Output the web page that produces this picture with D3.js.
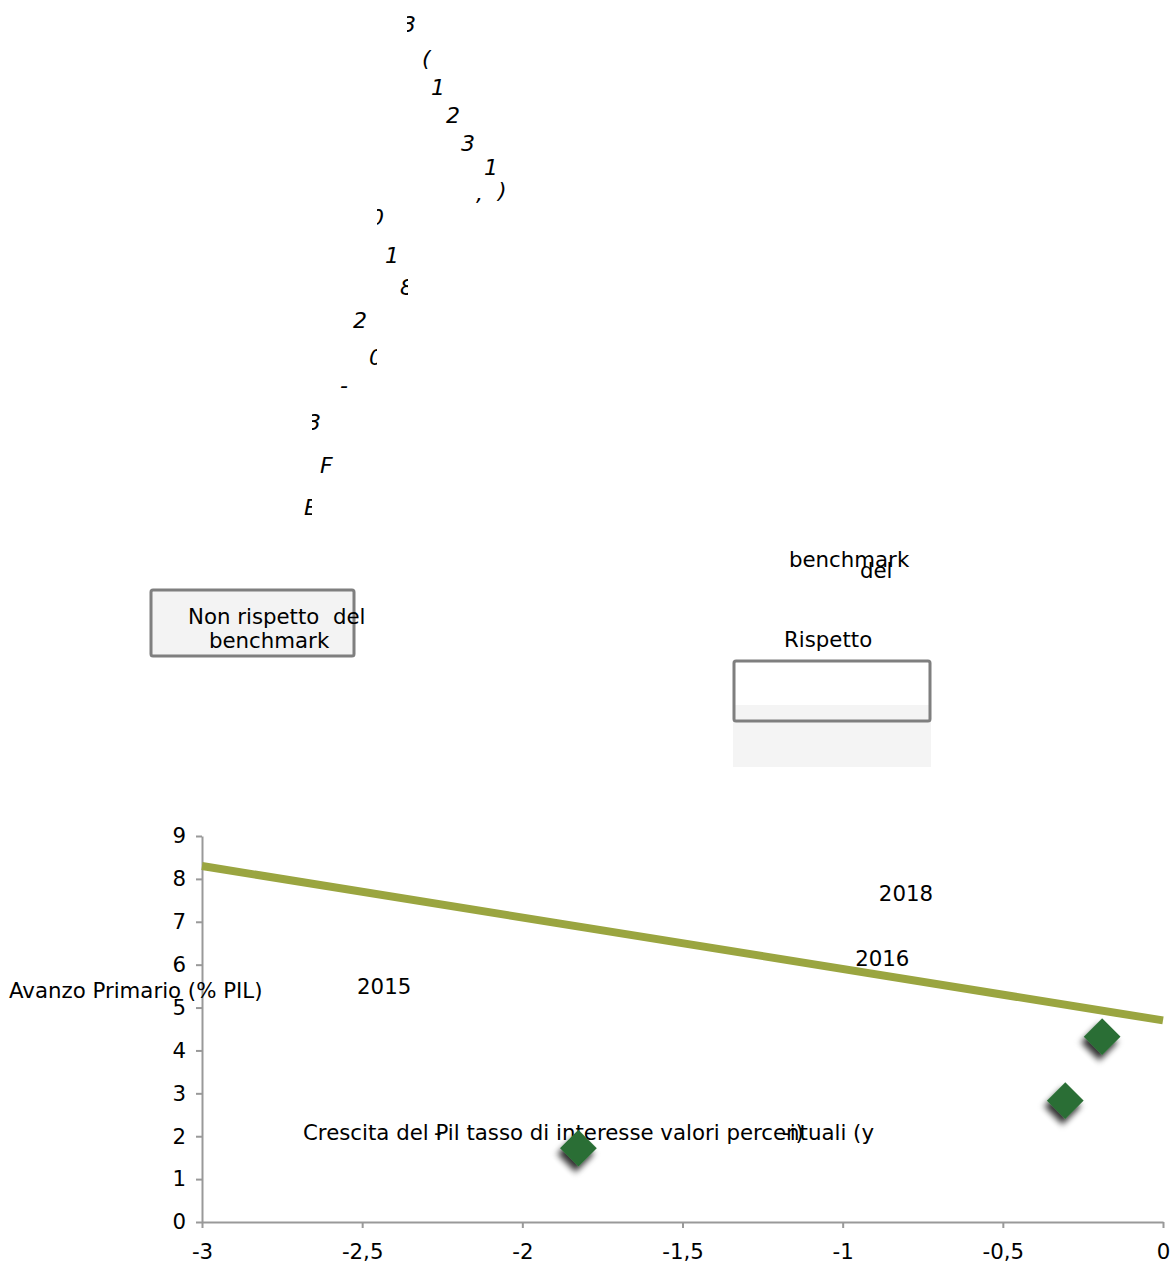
<!DOCTYPE html>
<html>
<head>
<meta charset="utf-8">
<script src="https://cdn.jsdelivr.net/npm/d3@7"></script>
<style>
  html, body { margin: 0; padding: 0; background: #fff; }
  svg { display: block; font-family: "DejaVu Sans", sans-serif; }
  text { white-space: pre; }
</style>
</head>
<body>
<svg id="chart" width="1174" height="1263"></svg>
<script>
// Benchmark line: required primary surplus at each end of the x range
const benchmarkX = [-3, 0];
const benchmarkY = [8.30, 4.70];

// Observed points: growth minus interest rate (x) vs primary surplus (y)
const pointX = [-1.825, -0.305, -0.19];
const pointY = [1.72, 2.83, 4.32];

// Year labels and the value positions they sit at
const yearLabels = ["2015", "2016", "2018"];
const yearX = [-2.516, -0.961, -0.887];
const yearY = [5.32, 5.97, 7.48];

// Axis ticks
const xTicks = [-3, -2.5, -2, -1.5, -1, -0.5, 0];
const yTicks = [0, 1, 2, 3, 4, 5, 6, 7, 8, 9];

const FS = 21.3;

const svg = d3.select("#chart");

const x = d3.scaleLinear().domain([-3, 0]).range([202, 1163]);
const y = d3.scaleLinear().domain([0, 9]).range([1222, 836]);

// drop shadow for the diamonds
const defs = svg.append("defs");
const f = defs.append("filter").attr("id", "shadow")
  .attr("x", "-50%").attr("y", "-50%").attr("width", "200%").attr("height", "200%");
f.append("feDropShadow").attr("dx", 2).attr("dy", 6).attr("stdDeviation", 3)
  .attr("flood-color", "#000").attr("flood-opacity", 0.8);

// ---- fragments of the rotated title, each glyph clipped by its frame ----
const titleGlyphs = [
  { t: "3", x: 402, y: 32, cx: 407, cw: 20 },
  { t: "(", x: 422, y: 66 },
  { t: "1", x: 431, y: 95 },
  { t: "2", x: 446, y: 123 },
  { t: "3", x: 461, y: 151 },
  { t: "1", x: 484, y: 175 },
  { t: ")", x: 498, y: 198 },
  { t: ",", x: 476, y: 201 },
  { t: "0", x: 370, y: 225, cx: 377, cw: 20 },
  { t: "1", x: 385, y: 263 },
  { t: "8", x: 400, y: 295, cx: 400, cw: 8 },
  { t: "2", x: 353, y: 328 },
  { t: "0", x: 369, y: 365, cx: 369, cw: 8 },
  { t: "-", x: 340, y: 393, cx: 340, cw: 20 },
  { t: "3", x: 307, y: 430, cx: 312, cw: 20 },
  { t: "F", x: 320, y: 473 },
  { t: "E", x: 304, y: 515, cx: 294, cw: 18 }
];
const tg = svg.append("g").attr("class", "title-fragments");
titleGlyphs.forEach((g, i) => {
  const node = tg.append("text")
    .attr("x", g.x).attr("y", g.y)
    .attr("font-size", 22).attr("font-style", "italic")
    .attr("fill", "#000").text(g.t);
  if (g.cx !== undefined) {
    defs.append("clipPath").attr("id", "gc" + i)
      .append("rect").attr("x", g.cx).attr("y", g.y - 25).attr("width", g.cw).attr("height", 35);
    node.attr("clip-path", "url(#gc" + i + ")");
  }
});

// ---- legend-like boxes ----
svg.append("rect").attr("x", 151).attr("y", 590).attr("width", 203).attr("height", 66)
  .attr("rx", 2).attr("fill", "#f3f3f3").attr("stroke", "#7f7f7f").attr("stroke-width", 3);
svg.append("text").attr("x", 188).attr("y", 624).attr("font-size", FS).text("Non rispetto  del");
svg.append("text").attr("x", 209).attr("y", 648).attr("font-size", FS).text("benchmark");

svg.append("rect").attr("x", 733).attr("y", 705).attr("width", 198).attr("height", 62)
  .attr("fill", "#f4f4f4");
svg.append("rect").attr("x", 734).attr("y", 661).attr("width", 196).attr("height", 60)
  .attr("rx", 2).attr("fill", "none").attr("stroke", "#7f7f7f").attr("stroke-width", 3);
svg.append("text").attr("x", 784).attr("y", 647).attr("font-size", FS).text("Rispetto");
svg.append("text").attr("x", 789).attr("y", 567).attr("font-size", FS).text("benchmark");
svg.append("text").attr("x", 860).attr("y", 578).attr("font-size", FS).text("del");

// ---- axes ----
const yAxis = svg.append("g").attr("transform", `translate(${x(-3)},0)`)
  .call(d3.axisLeft(y).tickValues(yTicks).tickFormat(d3.format("d"))
    .tickSize(6).tickSizeOuter(0).tickPadding(10));
const xAxis = svg.append("g").attr("transform", `translate(0,${y(0)})`)
  .call(d3.axisBottom(x).tickValues(xTicks)
    .tickFormat(d => String(d).replace(".", ","))
    .tickSize(6).tickSizeOuter(0).tickPadding(16));
[yAxis, xAxis].forEach(a => {
  a.select(".domain").attr("stroke", "#999").attr("stroke-width", 2);
  a.selectAll(".tick line").attr("stroke", "#999").attr("stroke-width", 2);
  a.selectAll(".tick text").attr("fill", "#000").attr("font-size", FS)
    .attr("font-family", "DejaVu Sans, sans-serif");
});

// ---- benchmark line ----
svg.append("line")
  .attr("x1", x(benchmarkX[0])).attr("y1", y(benchmarkY[0]))
  .attr("x2", x(benchmarkX[1])).attr("y2", y(benchmarkY[1]))
  .attr("stroke", "#9aa540").attr("stroke-width", 8);

// ---- axis titles ----
svg.append("text").attr("x", 9).attr("y", 998).attr("font-size", FS)
  .text("Avanzo Primario (% PIL)");
svg.append("text").attr("x", 303).attr("y", 1140).attr("font-size", FS)
  .text("Crescita del Pil tasso di interesse valori percentuali (y");
svg.append("text").attr("x", 434).attr("y", 1140).attr("font-size", FS).text("-");
svg.append("text").attr("x", 782).attr("y", 1140).attr("font-size", FS).text("-i)");

// ---- year labels ----
svg.append("g").selectAll("text").data(yearLabels).join("text")
  .attr("x", (d, i) => x(yearX[i])).attr("y", (d, i) => y(yearY[i]))
  .attr("font-size", FS).attr("fill", "#000").text(d => d);

// ---- diamonds ----
const pts = pointX.map((v, i) => ({ x: v, y: pointY[i] }));
svg.append("g").selectAll("path").data(pts).join("path")
  .attr("d", d3.symbol().type(d3.symbolSquare).size(26 * 26))
  .attr("transform", d => `translate(${x(d.x)},${y(d.y)}) rotate(45)`)
  .attr("fill", "#2c6e34")
  .attr("filter", "url(#shadow)");
</script>
</body>
</html>
